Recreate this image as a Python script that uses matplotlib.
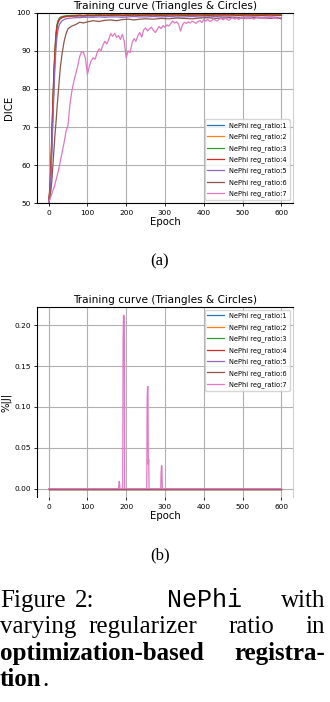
import matplotlib
matplotlib.use("Agg")
import matplotlib.pyplot as plt

W, H = 330, 702

# ---- data: Dice during training (sparse epoch grid for the fast series) ----
epochs = [0, 2, 4, 6, 8, 10, 12, 14, 16, 18, 20, 22, 24, 26, 28, 30, 35, 40, 45, 50,
          60, 70, 80, 90, 100, 115, 130, 145, 160, 175, 190, 205, 220, 235, 250,
          270, 290, 310, 330, 350, 370, 390, 410, 430, 450, 470, 490, 510, 530,
          550, 570, 590, 600]

dice_r1 = [50.5, 51.8, 54.0, 58.5, 64.0, 70.5, 76.5, 82.5, 87.5, 91.5, 94.5, 96.3, 97.3,
           97.9, 98.2, 98.4, 98.7, 98.9, 99.0, 99.0, 99.1, 99.1, 99.2, 99.1, 99.2, 99.2,
           99.3, 99.2, 99.3, 99.3, 99.2, 99.3, 99.4, 99.3, 99.3, 99.4, 99.3, 99.4, 99.4,
           99.3, 99.4, 99.4, 99.3, 99.4, 99.4, 99.4, 99.3, 99.4, 99.4, 99.3, 99.4, 99.4, 99.3]
dice_r2 = [50.6, 52.2, 55.0, 60.0, 66.0, 72.5, 78.5, 84.0, 88.8, 92.5, 95.2, 96.8, 97.6,
           98.1, 98.4, 98.6, 98.8, 99.0, 99.1, 99.1, 99.2, 99.2, 99.3, 99.2, 99.3, 99.3,
           99.4, 99.3, 99.4, 99.4, 99.3, 99.4, 99.5, 99.4, 99.4, 99.5, 99.4, 99.5, 99.5,
           99.4, 99.5, 99.5, 99.4, 99.5, 99.5, 99.5, 99.4, 99.5, 99.5, 99.4, 99.5, 99.5, 99.4]
dice_r3 = [50.4, 52.0, 54.8, 59.5, 65.5, 73.0, 79.5, 85.0, 89.5, 93.0, 95.6, 97.0, 97.8,
           98.3, 98.6, 98.8, 99.0, 99.1, 99.2, 99.2, 99.3, 99.3, 99.4, 99.3, 99.4, 99.4,
           99.5, 99.4, 99.5, 99.5, 99.4, 99.5, 99.6, 99.5, 99.5, 99.6, 99.5, 99.6, 99.6,
           99.5, 99.6, 99.6, 99.5, 99.6, 99.6, 99.6, 99.5, 99.6, 99.6, 99.5, 99.6, 99.6, 99.5]
dice_r4 = [50.2, 52.5, 55.5, 61.0, 67.5, 74.0, 80.0, 85.5, 89.0, 92.8, 95.0, 96.6, 97.5,
           98.0, 98.3, 98.5, 98.8, 98.9, 99.0, 99.1, 99.1, 99.2, 99.2, 99.2, 99.3, 99.2,
           99.3, 99.3, 99.3, 99.4, 99.3, 99.3, 99.4, 99.3, 99.4, 99.4, 99.3, 99.4, 99.4,
           99.3, 99.4, 99.4, 99.3, 99.4, 99.4, 99.4, 99.3, 99.4, 99.3, 99.3, 99.4, 99.3, 99.3]
dice_r5 = [50.3, 51.5, 53.5, 57.5, 62.5, 68.5, 74.5, 80.0, 85.0, 89.0, 92.0, 94.0, 95.4,
           96.3, 96.9, 97.3, 97.9, 98.2, 98.4, 98.5, 98.6, 98.7, 98.7, 98.8, 98.8, 98.8,
           98.9, 98.8, 98.9, 98.9, 98.8, 98.9, 99.0, 98.9, 98.9, 99.0, 98.9, 99.0, 98.9,
           98.9, 99.0, 98.9, 98.9, 99.0, 98.9, 98.9, 98.8, 98.9, 98.9, 98.8, 98.9, 98.8, 98.7]
dice_r6 = [50.0, 50.8, 52.0, 53.5, 55.5, 58.5, 61.5, 64.5, 67.5, 70.0, 72.5, 75.5, 78.0,
           80.5, 83.0, 85.5, 89.5, 92.5, 94.5, 95.8, 96.5, 96.9, 97.5, 97.3, 97.6, 97.9,
           97.7, 98.0, 98.1, 97.9, 98.2, 98.3, 98.1, 98.3, 98.4, 98.3, 98.5, 98.4, 98.6,
           98.5, 98.4, 98.6, 98.7, 98.5, 98.6, 98.7, 98.6, 98.5, 98.7, 98.6, 98.5, 98.6, 98.4]

# ratio 7 is much noisier, read every 5 epochs
epochs_r7 = list(range(0, 601, 5))
dice_r7 = [50.3, 51.5, 53.0, 54.5, 56.5, 58.5, 61.0, 63.5, 66.0, 69.0, 70.5, 76.0, 79.5,
           82.0, 84.0, 86.0, 88.5, 89.8, 89.5, 88.0, 83.8, 86.0, 87.5, 88.2, 87.8, 89.5,
           90.5, 90.0, 91.5, 92.5, 91.8, 93.0, 94.5, 93.8, 94.6, 93.5, 94.0, 93.0, 94.3,
           92.5, 88.2, 90.0, 89.5, 92.0, 93.2, 92.5, 94.0, 94.8, 93.6, 95.5, 96.0, 95.2,
           95.8, 96.2, 95.4, 94.8, 95.6, 96.4, 95.8, 96.6, 96.2, 96.8, 96.5, 97.2, 97.8,
           97.3, 97.6, 97.0, 95.2, 96.8, 97.5, 97.2, 97.6, 97.3, 97.8, 97.5, 97.2, 97.7,
           97.9, 97.4, 98.2, 97.8, 98.3, 97.7, 97.9, 98.4, 98.0, 97.8, 98.3, 98.5, 98.1,
           98.6, 98.2, 98.0, 98.5, 98.7, 98.3, 98.6, 98.2, 98.7, 98.5, 98.8, 98.4, 98.6,
           98.9, 98.5, 98.3, 98.7, 98.9, 98.5, 98.8, 98.6, 98.4, 98.8, 98.6, 98.9, 98.5,
           98.7, 98.4, 98.8, 98.6]

# ---- data: % of negative Jacobian ----
jac_epochs_flat = [0, 600]
jac_flat = [0.0, 0.0]   # ratios 1-6 stay at zero
jac_epochs_r7 = [0, 180, 181, 182, 183, 184, 191, 192, 193, 194, 195, 196, 197,
                 253, 254, 255, 256, 257, 258, 259, 260, 289, 290, 291, 292, 293, 294, 600]
jac_r7 = [0, 0, 0.004, 0.009, 0.006, 0, 0, 0.18, 0.212, 0.212, 0.21, 0.0, 0,
          0, 0.11, 0.125, 0.125, 0.03, 0.036, 0.0, 0, 0, 0.02, 0.028, 0.028, 0, 0, 0]

labels = ["NePhi reg_ratio:%d" % i for i in range(1, 8)]
colors = ["#1f77b4", "#ff7f0e", "#2ca02c", "#d62728", "#9467bd", "#8c564b", "#e377c2"]

fig = plt.figure(figsize=(W / 100, H / 100), dpi=100)

ax1 = fig.add_axes([37 / W, 1 - 203.3 / H, 256 / W, 190.6 / H])
ax2 = fig.add_axes([37 / W, 1 - 497.3 / H, 256 / W, 190.6 / H])

dice_fast = [dice_r1, dice_r2, dice_r3, dice_r4, dice_r5, dice_r6]
for vals, lab, col in zip(dice_fast, labels[:6], colors[:6]):
    ax1.plot(epochs, vals, color=col, lw=0.9, label=lab)
ax1.plot(epochs_r7, dice_r7, color=colors[6], lw=0.9, label=labels[6])

for lab, col in zip(labels[:6], colors[:6]):
    ax2.plot(jac_epochs_flat, jac_flat, color=col, lw=0.9, label=lab)
ax2.plot(jac_epochs_r7, jac_r7, color=colors[6], lw=0.9, label=labels[6])

ax1.set_ylim(50, 100)
ax1.set_xlim(-30, 630)
ax1.set_yticks([50, 60, 70, 80, 90, 100])
ax2.set_xlim(-30, 630)
ax2.set_yticks([0.0, 0.05, 0.10, 0.15, 0.20])

for ax, ylab, loc in [(ax1, "DICE", "lower right"), (ax2, "%|J|", "upper right")]:
    ax.set_title("Training curve (Triangles & Circles)", fontsize=7.6, pad=3)
    ax.set_xlabel("Epoch", fontsize=7.3, labelpad=1)
    ax.set_ylabel(ylab, fontsize=7.3, labelpad=2)
    ax.set_xticks([0, 100, 200, 300, 400, 500, 600])
    ax.tick_params(labelsize=5.3, length=2.5, width=0.6, pad=2)
    ax.grid(True, color="#b0b0b0", lw=0.8)
    ax.spines["right"].set_color("#d0d0d0")
    ax.legend(loc=loc, fontsize=4.8, handlelength=2.5, labelspacing=0.7,
              borderaxespad=0.5, framealpha=0.8, fancybox=True)
ax2.yaxis.set_major_formatter(matplotlib.ticker.FormatStrFormatter("%.2f"))
ax2.spines["bottom"].set_visible(False)

# sub-figure captions
fig.text(160 / W, 1 - 261 / H, "(a)", fontsize=12, family="Liberation Serif",
         ha="center", va="center")
fig.text(160 / W, 1 - 555 / H, "(b)", fontsize=12, family="Liberation Serif",
         ha="center", va="center")

# justified figure caption, word by word
cap = 18
serif = "Liberation Serif"
def word(x, y, s, ha="left", weight="normal", family=serif):
    fig.text(x / W, 1 - y / H, s, fontsize=cap, family=family, weight=weight,
             ha=ha, va="baseline")

word(0, 607, "Figure")
word(75, 607, "2:")
word(167, 607, "NePhi", family="Liberation Mono")
word(325, 607, "with", ha="right")
word(0.5, 633, "varying")
word(88, 633, "regularizer")
word(228, 633, "ratio")
word(325, 633, "in", ha="right")
word(0, 660, "optimization-based", weight="bold")
word(325, 660, "registra-", ha="right", weight="bold")
word(0, 686, "tion", weight="bold")
word(42, 686, ".")

fig.savefig("out.png", dpi=100)
